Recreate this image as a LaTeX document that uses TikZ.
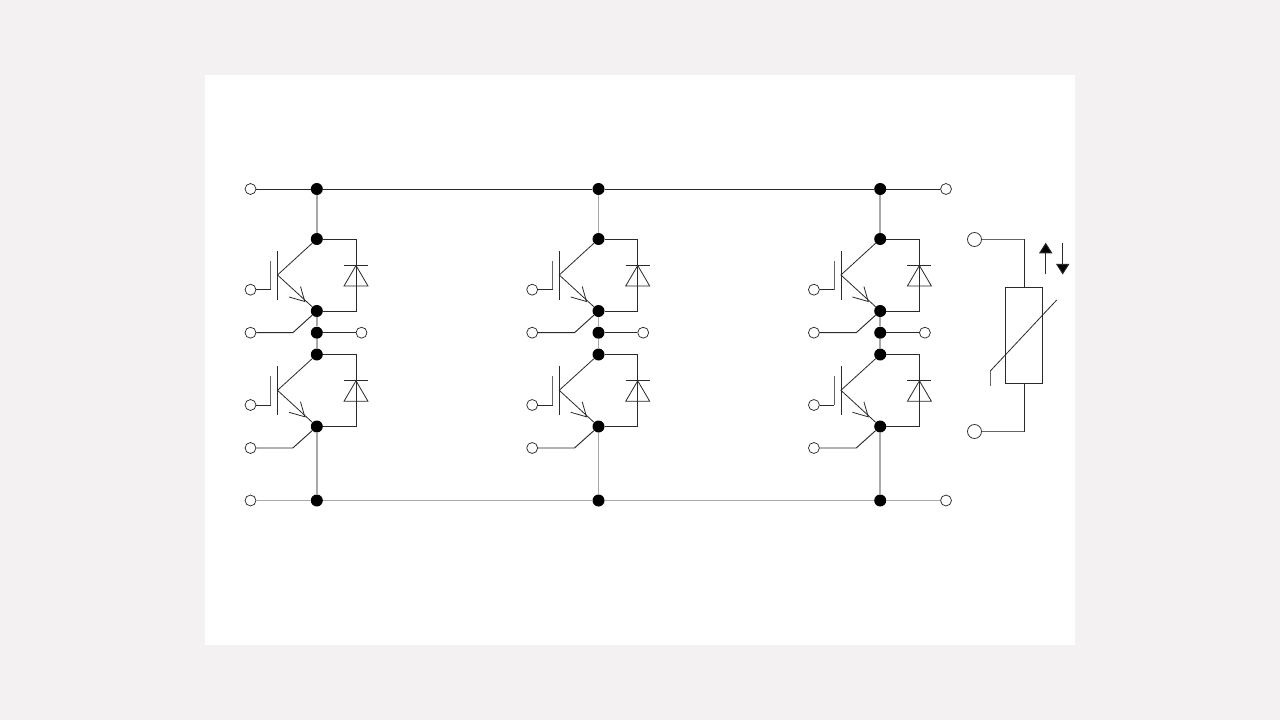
\documentclass[tikz,border=0pt]{standalone}
\usetikzlibrary{arrows.meta}
\definecolor{pagebg}{HTML}{F3F1F2}
\definecolor{softline}{HTML}{A8A8A8}
\definecolor{darkline}{HTML}{2A2A2A}
\tikzset{
  dot/.style={circle,fill=black,draw=none,minimum size=9pt,inner sep=0pt},
  term/.style={circle,fill=white,draw=darkline,line width=0.55pt,minimum size=8.2pt,inner sep=0pt},
  bigterm/.style={circle,fill=white,draw=darkline,line width=0.55pt,minimum size=10.5pt,inner sep=0pt},
  wire/.style={draw=darkline,line width=0.7pt},
  soft/.style={draw=softline,line width=1.2pt},
  softthin/.style={draw=softline!60!black,line width=0.7pt},
  thin wire/.style={draw=darkline,line width=0.6pt}
}
\begin{document}
\begin{tikzpicture}[x=0.75pt,y=-0.75pt]
\useasboundingbox (0,0) rectangle (1280,720);
\fill[pagebg] (0,0) rectangle (1280,720);
\fill[white] (205,75) rectangle (1075,645);
% bus terminals
\node[term] (tl) at (250.5,189) {};
\node[term] (tr) at (946,189) {};
\node[term] (bl) at (250.5,500.5) {};
\node[term] (br) at (946,500.5) {};
\foreach \m/\x in {a/316.8,b/598.5,c/880.2}{
  \begin{scope}[shift={(\x,0)}]
    \node[dot] (\m top) at (0,189) {};
    \node[dot] (\m bot) at (0,500.5) {};
    \node[dot] (\m c1) at (0,239) {};
    \node[dot] (\m e1) at (0,311) {};
    \node[dot] (\m mid) at (0,332.7) {};
    \node[dot] (\m c2) at (0,354.5) {};
    \node[dot] (\m e2) at (0,426.5) {};
    \node[term] (\m out) at (44.7,332.7) {};
    \node[term] (\m g1) at (-66.3,289.7) {};
    \node[term] (\m s1) at (-66.3,332.7) {};
    \node[term] (\m g2) at (-66.3,405) {};
    \node[term] (\m s2) at (-66.3,448) {};
    \draw[soft] (\m top) -- (\m c1);
    \draw[soft] (\m e1) -- (\m mid);
    \draw[soft] (\m mid) -- (\m c2);
    \draw[soft] (\m e2) -- (\m bot);
    \draw[wire] (\m mid) -- (\m out);
    \foreach \n/\dy in {1/0,2/115.3}{
      \begin{scope}[yshift=-0.75*\dy]
        \coordinate (\m b\n) at (-39.3,275);
        \coordinate (\m tip\n) at (-12,301.5);
        % IGBT bar and gate bar
        \draw[thin wire] (-39.3,251) -- (-39.3,299.5);
        \draw[softthin] (-46,261) -- (-46,289.7);
        % open arrowhead
        \draw[thin wire] (-16.3,286.5) -- (\m tip\n) -- (-27.8,297);
        % diode
        \draw[thin wire] (27.2,265.5) -- (51.2,265.5);
        \draw[thin wire] (39.2,265.5) -- (27.2,286) -- (51.2,286) -- cycle;
      \end{scope}
    }
    \draw[wire] (\m g1) -- (-46,289.7);
    \draw[wire] (\m g2) -- (-46,405);
    \draw[wire] (\m s1) -- (-24,332.7) -- (\m e1);
    \draw[wire] (\m s2) -- (-24,448) -- (\m e2);
    \draw[thin wire] (\m c1) -- (\m b1) -- (\m e1);
    \draw[thin wire] (\m c2) -- (\m b2) -- (\m e2);
    \draw[wire] (\m c1) -- (39.2,239) -- (39.2,311) -- (\m e1);
    \draw[wire] (\m c2) -- (39.2,354.5) -- (39.2,426.5) -- (\m e2);
  \end{scope}
}
% buses
\draw[wire] (tl) -- (atop);
\draw[wire] (atop) -- (btop);
\draw[wire] (btop) -- (ctop);
\draw[wire] (ctop) -- (tr);
\draw[soft] (bl) -- (abot);
\draw[soft] (abot) -- (bbot);
\draw[soft] (bbot) -- (cbot);
\draw[soft] (cbot) -- (br);
% varistor
\node[bigterm] (v1) at (974.5,239.5) {};
\node[bigterm] (v2) at (974.5,431.5) {};
\node[draw=darkline,line width=0.7pt,fill=none,minimum width=27.75pt,minimum height=72pt,inner sep=0pt] (vr) at (1024,335.5) {};
\coordinate (k1) at (vr.north |- v1);
\coordinate (k2) at (vr.south |- v2);
\draw[softthin] (v1) -- (k1);
\draw[wire] (k1) -- (vr.north);
\draw[softthin] (v2) -- (k2);
\draw[wire] (k2) -- (vr.south);
\coordinate (d1) at (1056.7,300);
\coordinate (d2) at (990.3,371);
\coordinate (d3) at (990.3,385.7);
\draw[thin wire] (d1) -- (d2);
\draw[softthin] (d2) -- (d3);
% current arrows
\coordinate (u1) at (1045.7,274.3);
\coordinate (u2) at (1045.7,242.7);
\coordinate (w1) at (1062.7,243);
\coordinate (w2) at (1062.7,274.5);
\draw[wire,-{Triangle[length=8pt,width=10pt,fill=black]}] (u1) -- (u2);
\draw[wire,-{Triangle[length=8pt,width=10pt,fill=black]}] (w1) -- (w2);
\end{tikzpicture}
\end{document}
